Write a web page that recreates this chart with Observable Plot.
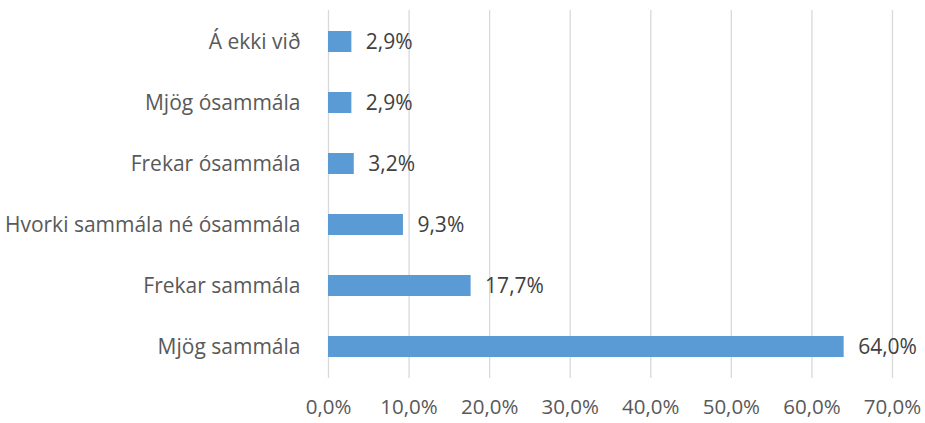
<!DOCTYPE html>
<html>
<head>
<meta charset="utf-8">
<script src="https://cdn.jsdelivr.net/npm/d3@7"></script>
<script src="https://cdn.jsdelivr.net/npm/@observablehq/plot@0.6"></script>
<style>
  html, body { margin: 0; padding: 0; background: #fff; }
  #chart svg { display: block; }
</style>
</head>
<body>
<div id="chart"></div>
<script>
const categories = ["Á ekki við", "Mjög ósammála", "Frekar ósammála", "Hvorki sammála né ósammála", "Frekar sammála", "Mjög sammála"];
const values = [2.9, 2.9, 3.2, 9.3, 17.7, 64.0];
const xTicks = [0, 10, 20, 30, 40, 50, 60, 70];

const data = categories.map((c, i) => ({category: c, value: values[i]}));
const fmt = d => d.toFixed(1).replace(".", ",") + "%";

const chart = Plot.plot({
  width: 925,
  height: 423,
  marginLeft: 328,
  marginRight: 33,
  marginTop: 10,
  marginBottom: 45,
  style: {fontFamily: "'Open Sans', sans-serif", fontSize: "21px", color: "#595959", background: "#fff"},
  x: {domain: [0, 70], ticks: xTicks, tickFormat: fmt, label: null},
  y: {domain: categories, label: null, paddingInner: 0.65, paddingOuter: 0.325, align: 0.5},
  marks: [
    Plot.gridX(xTicks, {stroke: "#d9d9d9", strokeOpacity: 1, strokeWidth: 1.3}),
    Plot.axisX({ticks: xTicks, tickFormat: fmt, tickSize: 0, tickPadding: 21, fill: "#595959", fontSize: 20.5}),
    Plot.axisY({tickSize: 0, tickPadding: 28, fill: "#595959", fontSize: 21}),
    Plot.barX(data, {x: "value", y: "category", fill: "#5b9bd5"}),
    Plot.text(data, {x: "value", y: "category", text: d => fmt(d.value), textAnchor: "start", dx: 14, fill: "#404040", fontSize: 21})
  ]
});
document.getElementById("chart").appendChild(chart);
</script>
</body>
</html>
